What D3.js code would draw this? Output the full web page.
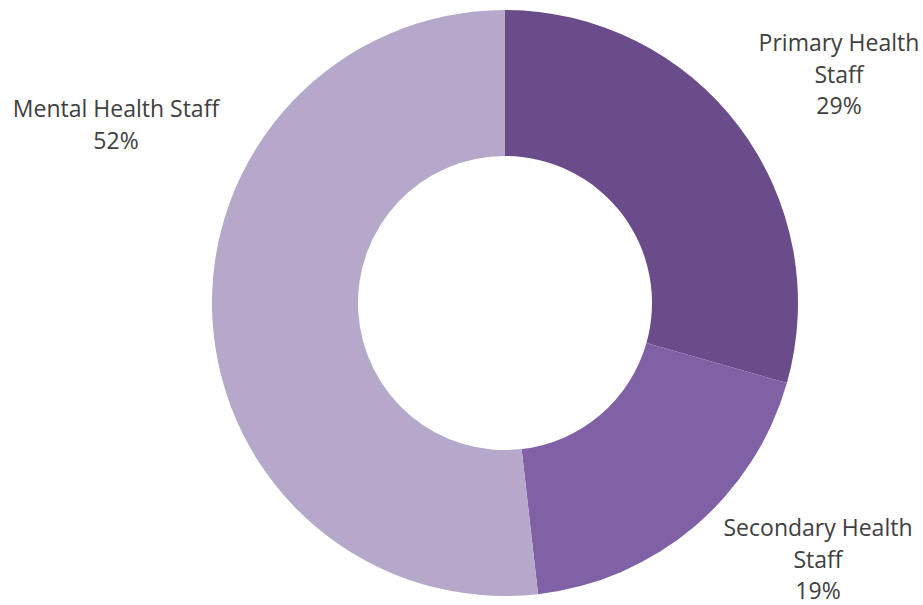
<!DOCTYPE html>
<html><head><meta charset="utf-8">
<script src="https://cdn.jsdelivr.net/npm/d3@7"></script>
<style>body{margin:0;background:#fff;} svg{display:block;}</style>
</head><body>
<svg id="c" width="923" height="605"></svg>
<script>
const categories = ["Primary Health Staff", "Secondary Health Staff", "Mental Health Staff"];
const values = [29.4, 18.8, 51.8];
const pctLabels = ["29%", "19%", "52%"];
const labelLines = [["Primary Health", "Staff", "29%"], ["Secondary Health", "Staff", "19%"], ["Mental Health Staff", "52%"]];
const colors = ["#6a4c8a", "#8061a5", "#b5a8ca"];
const labelPos = [[839, 43], [818, 528], [116, 109]];

const svg = d3.select("#c");
const cx = 505, cy = 303, R = 293, r = 147;
const pie = d3.pie().sort(null).value(d => d);
const arc = d3.arc().innerRadius(r).outerRadius(R);
const g = svg.append("g").attr("transform", `translate(${cx},${cy})`);
g.selectAll("path").data(pie(values)).join("path")
  .attr("d", arc).attr("fill", (d, i) => colors[i]);

labelLines.forEach((lines, i) => {
  const t = svg.append("text")
    .attr("text-anchor", "middle")
    .attr("font-family", "'Open Sans', Lato, sans-serif")
    .attr("font-size", 23)
    .attr("fill", "#404040");
  lines.forEach((ln, j) => {
    t.append("tspan").attr("x", labelPos[i][0]).attr("y", labelPos[i][1] + j * 31.5)
      .attr("dy", "0.35em").text(ln);
  });
});
</script>
</body></html>
